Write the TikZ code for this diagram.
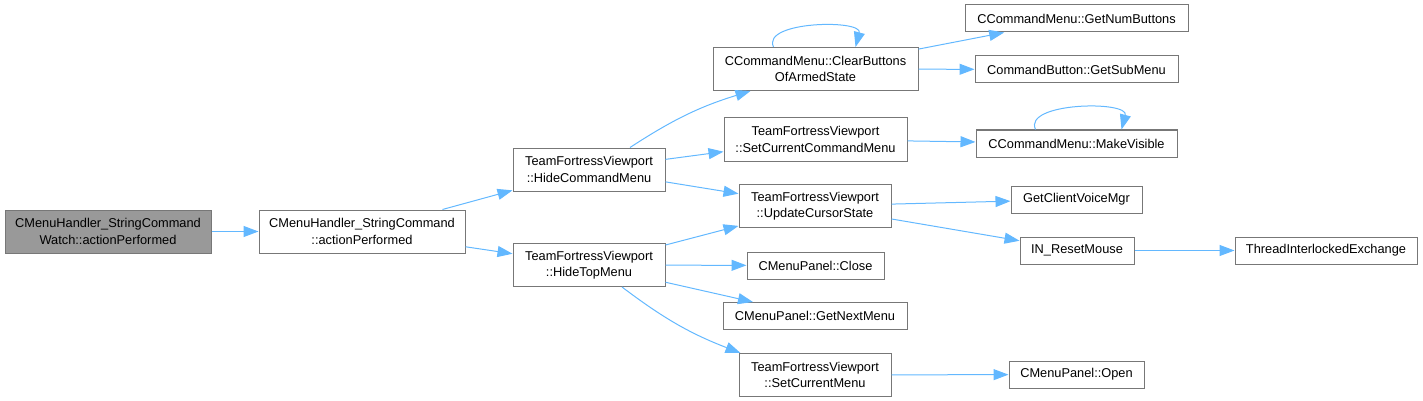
\documentclass[tikz,border=0pt]{standalone}
\usepackage{fontspec}
\setmainfont{Liberation Sans}
\usetikzlibrary{arrows.meta}
\definecolor{callblue}{HTML}{63B8FF}
\definecolor{boxgray}{HTML}{777777}
\definecolor{rootgray}{HTML}{999999}
\tikzset{
  fn/.style   = {draw=boxgray,fill=white,line width=1pt,minimum height=27pt,
                 inner sep=2pt,font=\fontsize{12.8}{16.5}\selectfont},
  fn2/.style  = {fn,minimum height=43pt,align=center},
  call/.style = {-{Triangle[length=15pt,width=11pt]},callblue,line width=1pt}
}

\begin{document}
\begin{tikzpicture}[x=1pt,y=-1pt]
  \useasboundingbox (0,0) rectangle (1423,401);
  % first two levels
  \node[fn2,fill=rootgray,minimum width=206pt] (watch)  at (108,231.5) {CMenuHandler\_StringCommand\\Watch::actionPerformed};
  \node[fn2,minimum width=206pt] (strcmd)  at (362,231.5) {CMenuHandler\_StringCommand\\::actionPerformed};
  \node[fn2,minimum width=152pt] (hidecmd) at (589,169.5) {TeamFortressViewport\\::HideCommandMenu};
  \node[fn2,minimum width=152pt] (hidetop) at (589,265)   {TeamFortressViewport\\::HideTopMenu};
  % third column
  \node[fn2,minimum width=205pt] (clearbtn)   at (815.5,69)    {CCommandMenu::ClearButtons\\OfArmedState};
  \node[fn2,minimum width=183pt] (setcmdmenu) at (815.5,139.5) {TeamFortressViewport\\::SetCurrentCommandMenu};
  \node[fn2,minimum width=152pt] (updcursor)  at (815,206)     {TeamFortressViewport\\::UpdateCursorState};
  \node[fn,minimum width=137pt]  (close)      at (815.5,265.5) {CMenuPanel::Close};
  \node[fn,minimum width=184pt]  (nextmenu)   at (815,316)     {CMenuPanel::GetNextMenu};
  \node[fn2,minimum width=152pt] (setmenu)    at (815,375)     {TeamFortressViewport\\::SetCurrentMenu};
  % leaves
  \node[fn,minimum width=223pt] (numbtn)      at (1076.5,18.5)  {CCommandMenu::GetNumButtons};
  \node[fn,minimum width=203pt] (submenu)     at (1076.5,69.5)  {CommandButton::GetSubMenu};
  \node[fn,minimum width=201pt] (makevis)     at (1076.5,143.5) {CCommandMenu::MakeVisible};
  \node[fn,minimum width=131pt] (voicemgr)    at (1076.5,199.5) {GetClientVoiceMgr};
  \node[fn,minimum width=114pt] (resetmouse)  at (1077,250.5)   {IN\_ResetMouse};
  \node[fn,minimum width=182pt] (interlocked) at (1326,250.5)   {ThreadInterlockedExchange};
  \node[fn,minimum width=135pt] (open)        at (1076.5,374.5) {CMenuPanel::Open};

  \draw[call] (watch) -- (strcmd);
  \draw[call] (strcmd) -- (hidecmd);
  \draw[call] (strcmd) -- (hidetop);
  \draw[call] ([xshift=41pt]hidecmd.north) to[bend left=8] ([xshift=-65pt]clearbtn.south);
  \draw[call] (hidecmd) -- (setcmdmenu);
  \draw[call] (hidecmd) -- (updcursor);
  \draw[call] (hidetop) -- (updcursor);
  \draw[call] (hidetop) -- (close);
  \draw[call] (hidetop) -- (nextmenu);
  \draw[call] ([xshift=33pt]hidetop.south) to[bend right=8] ([xshift=2pt]setmenu.north west);
  % recursive calls
  \draw[call] ([xshift=-42pt]clearbtn.north) to[out=115,in=75,looseness=0.9] ([xshift=40pt]clearbtn.north);
  \draw[call] ([xshift=-41pt]makevis.north) to[out=115,in=75,looseness=0.9] ([xshift=45pt]makevis.north);
  \draw[call] (clearbtn) -- (numbtn);
  \draw[call] (clearbtn) -- (submenu);
  \draw[call] (setcmdmenu) -- (makevis);
  \draw[call] (updcursor) -- (voicemgr);
  \draw[call] (updcursor) -- (resetmouse);
  \draw[call] (resetmouse) -- (interlocked);
  \draw[call] (setmenu) -- (open);
\end{tikzpicture}
\end{document}
